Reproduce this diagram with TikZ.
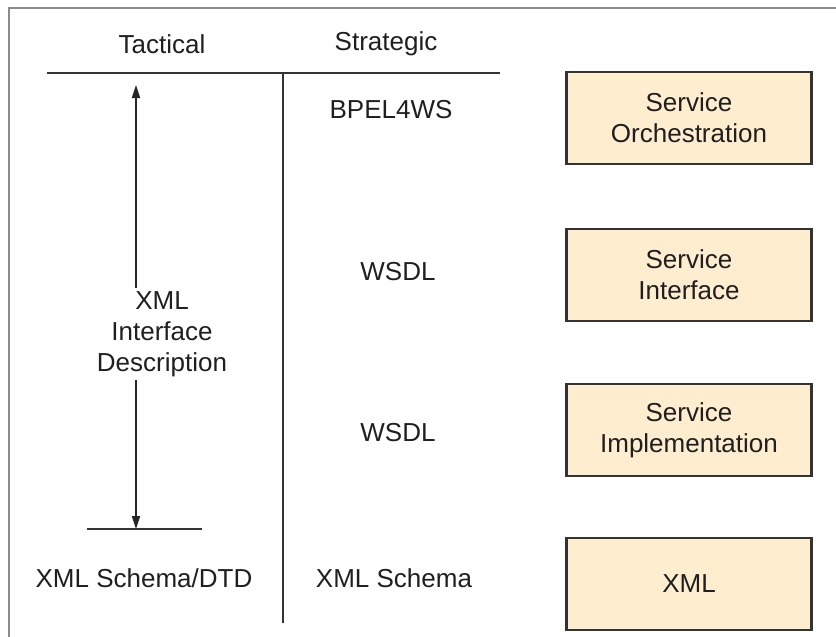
\documentclass[tikz,border=0pt]{standalone}
\usepackage{fontspec}
\setmainfont{Liberation Sans}
\usetikzlibrary{arrows.meta}
\definecolor{boxfill}{HTML}{FEEDCF}
\definecolor{framegray}{HTML}{8A8A8A}
\tikzset{
  lbl/.style={font=\fontsize{26}{31}\selectfont, align=center, text=black!88, inner sep=0pt},
  layerbox/.style={draw=black!80, line width=2.2pt, fill=boxfill, minimum width=245pt, minimum height=92pt, lbl},
  rule/.style={line width=2pt, draw=black!80},
  dblarrow/.style={line width=1.8pt, draw=black!85, {Triangle[length=13pt,width=8pt]}-{Triangle[length=13pt,width=8pt]}}
}
\begin{document}
\begin{tikzpicture}[x=1pt,y=-1pt]
\useasboundingbox (0,0) rectangle (836,637);
% outer frame (top and left visible)
\draw[framegray, line width=2.5pt] (9,637) -- (9,8) -- (836,8);
% headers
\node[lbl] (tac) at (162,44) {Tactical};
\node[lbl] (str) at (386,44) {Strategic};
% rules
\coordinate (hl) at (47,73);
\coordinate (hr) at (500,73);
\draw[rule] (hl) -- (hr);
\coordinate (vt) at (283,73);
\coordinate (vb) at (283,623);
\draw[rule] (vt) -- (vb);
\coordinate (bl) at (87,529);
\coordinate (br) at (202,529);
\draw[rule] (bl) -- (br);
% arrow
\coordinate (at) at (136,85);
\coordinate (ab) at (136,529);
\draw[dblarrow] (at) -- (ab);
% tactical labels
\node[lbl, fill=white, inner sep=3pt] (xid) at (162,334) {XML\\Interface\\Description};
\node[lbl] (xsd) at (144,578) {XML Schema/DTD};
% strategic labels
\node[lbl] (bpel) at (391,110) {BPEL4WS};
\node[lbl] (wsdl1) at (398,272) {WSDL};
\node[lbl] (wsdl2) at (398,433) {WSDL};
\node[lbl] (xs) at (394,578) {XML Schema};
% boxes
\node[layerbox] (orch) at (689,118) {Service\\Orchestration};
\node[layerbox] (intf) at (689,275) {Service\\Interface};
\node[layerbox] (impl) at (689,430) {Service\\Implementation};
\node[layerbox] (xml) at (689,584) {XML};
\end{tikzpicture}
\end{document}
